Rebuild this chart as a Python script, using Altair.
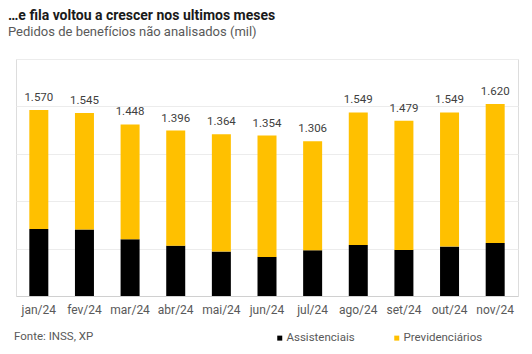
import altair as alt
import pandas as pd

months = ["jan/24", "fev/24", "mar/24", "abr/24", "mai/24", "jun/24",
          "jul/24", "ago/24", "set/24", "out/24", "nov/24"]
totals = [1570, 1545, 1448, 1396, 1364, 1354, 1306, 1549, 1479, 1549, 1620]
assistenciais = [566, 561, 479, 425, 375, 330, 386, 431, 389, 417, 448]
series = ["Assistenciais", "Previdenciários"]
colors = ["#000000", "#FFC000"]
grid_values = [0, 200, 400, 600, 800, 1000, 1200, 1400, 1600, 1800, 2000]

rows = []
for m, t, a in zip(months, totals, assistenciais):
    rows.append({"mes": m, "serie": series[0], "valor": a, "ordem": 0})
    rows.append({"mes": m, "serie": series[1], "valor": t - a, "ordem": 1})
df = pd.DataFrame(rows)

df_tot = pd.DataFrame({
    "mes": months,
    "total": totals,
    "rotulo": [f"{t:,}".replace(",", ".") for t in totals],
})

FONT = "Roboto"
GRAY = "#595959"

x = alt.X("mes:N", sort=months, title=None,
          scale=alt.Scale(paddingInner=0, paddingOuter=0),
          axis=alt.Axis(labelAngle=0, labelPadding=8, labelFontSize=12,
                        labelColor=GRAY, labelFont=FONT, ticks=False,
                        domainColor="#d0d0d0", domainWidth=1))

bars = alt.Chart(df).mark_bar(size=19).encode(
    x=x,
    y=alt.Y("valor:Q", stack="zero", title=None,
            scale=alt.Scale(domain=[0, 2000], nice=False),
            axis=alt.Axis(values=grid_values, labels=False, ticks=False,
                          domain=False, grid=True, gridColor="#ececec")),
    color=alt.Color("serie:N", scale=alt.Scale(domain=series, range=colors),
                    legend=alt.Legend(title=None, orient="none", direction="horizontal",
                                      legendX=258, legendY=273, symbolType="square",
                                      symbolSize=25, symbolStrokeWidth=0,
                                      labelFontSize=11.5, labelColor=GRAY, labelFont=FONT,
                                      labelOffset=1, columnPadding=36)),
    order=alt.Order("ordem:Q", sort="ascending"),
)

labels = alt.Chart(df_tot).mark_text(
    dy=-12, baseline="middle", fontSize=11.5, color="#404040", font=FONT
).encode(
    x=alt.X("mes:N", sort=months),
    y=alt.Y("total:Q"),
    text="rotulo:N",
)

source = alt.Chart(pd.DataFrame({"t": ["Fonte: INSS, XP"]})).mark_text(
    align="left", baseline="middle", fontSize=11.5, color=GRAY, font=FONT
).encode(
    x=alt.value(-2), y=alt.value(278), text="t:N"
)

chart = alt.layer(bars, labels, source).properties(
    width=502, height=237,
    autosize=alt.AutoSizeParams(type="none"),
    padding={"left": 16, "top": 59, "right": 14, "bottom": 58},
    title=alt.TitleParams(
        text="…e fila voltou a crescer nos ultimos meses",
        subtitle="Pedidos de benefícios não analisados (mil)",
        anchor="start", dx=-6, offset=20,
        font=FONT, fontSize=14, fontWeight="bold", color="#1a1a1a",
        subtitleFont=FONT, subtitleFontSize=13, subtitleColor=GRAY,
        subtitlePadding=3,
    ),
).configure_view(stroke=None).configure(background="white")

chart.save("out.html", embed_options={"renderer": "svg", "actions": False})
